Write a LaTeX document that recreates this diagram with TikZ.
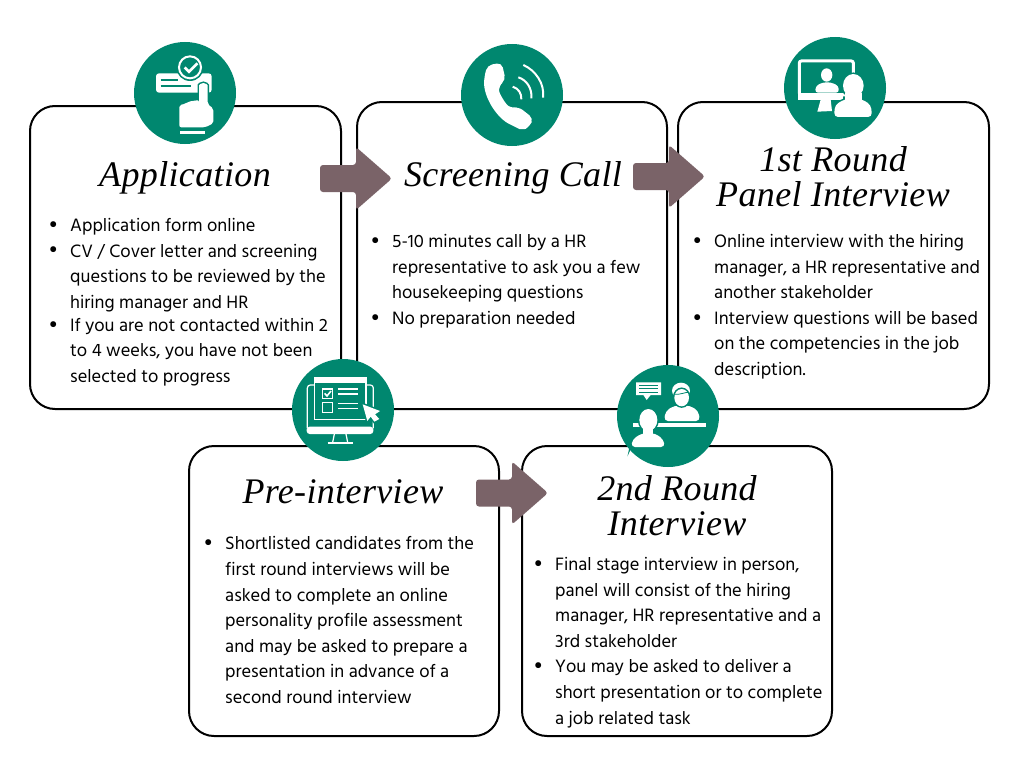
\documentclass[tikz,border=0pt]{standalone}
\usepackage{fontspec}
\setmainfont{Hind Madurai}
\newfontfamily\titlefont[LetterSpace=1]{Liberation Serif Italic}
\definecolor{tealc}{HTML}{00876F}
\definecolor{arrowc}{HTML}{7A6368}
\newcommand{\bul}{\llap{\raisebox{-0.8pt}{\scalebox{1.2}{\textbullet}}\hspace{12pt}}}
\newcommand{\blockarrow}[1]{\fill[arrowc,rounded corners=3pt] ($(#1)+(0,-13.5)$) -- ($(#1)+(36,-13.5)$) -- ($(#1)+(36,-31.5)$) -- ($(#1)+(72,0)$) -- ($(#1)+(36,31.5)$) -- ($(#1)+(36,13.5)$) -- ($(#1)+(0,13.5)$) -- cycle;}
\usetikzlibrary{calc}
\tikzset{
  card/.style={draw=black,line width=2pt,rounded corners=25pt,fill=white},
  badge/.style={circle,fill=tealc,inner sep=0pt,minimum size=102pt},
  heading/.style={font=\titlefont\fontsize{36}{35}\selectfont,align=center,inner sep=0pt,text=black},
  body/.style={font=\fontsize{18.4}{25.6}\selectfont,align=left,anchor=north west,inner sep=0pt,text=black},
  grl/.style={draw=tealc,line width=1.3pt},
  halo/.style={preaction={draw=tealc,line width=3pt},fill=white}
}
\begin{document}
\begin{tikzpicture}[x=1pt,y=-1pt]
\useasboundingbox (0,0) rectangle (1024,768);
\fill[white] (0,0) rectangle (1024,768);
% cards
\draw[card] (30,106) rectangle (341,409);
\draw[card] (357,102) rectangle (667,409);
\draw[card] (678,102) rectangle (989,409);
\draw[card] (189,446) rectangle (499,736);
\draw[card] (522,446) rectangle (832,736);
% arrows
\blockarrow{320,178.5}
\blockarrow{633,176.5}
\blockarrow{476,493}
% badges
\node[badge] (b1) at (185,93) {};
\node[badge] (b2) at (512,95) {};
\node[badge] (b3) at (835,88) {};
\node[badge] (b4) at (343,410) {};
\node[badge] (b5) at (668,416) {};
% icon 1
\begin{scope}[shift={(120,30)},scale=1/3]
\fill[white,rounded corners=3pt] (108,130) rectangle (275,188);
\draw[grl] (122,150) -- (175,150) (122,168) -- (212,168);
\fill[tealc] (210,112) circle (41);
\draw[white,line width=2pt] (210,112) circle (33);
\draw[white,line width=2.6pt] (194,112) -- (207,125) -- (232,100);
\path[halo,rounded corners=2pt] (237,235) -- (237,172) arc (180:360:13) -- (263,222) -- (280,236) -- (280,280) -- (255,292) -- (178,292) -- (178,225) -- (195,222) -- (205,215) -- (237,210) -- cycle;
\fill[white] (180,303) rectangle (255,311);
\end{scope}
% icon 2
\begin{scope}[shift={(450,30)},scale=1/3]
\fill[white,rounded corners=5pt] (112,106) -- (155,98) -- (167,150) -- (146,168) .. controls (148,190) and (165,220) .. (186,236) -- (205,230) -- (250,265) -- (240,288) .. controls (225,298) and (210,298) .. (195,290) .. controls (140,265) and (100,200) .. (103,140) -- cycle;
\draw[white,line width=2pt] (188,170) .. controls (205,175) and (215,190) .. (214,208);
\draw[white,line width=2pt] (205,142) .. controls (230,150) and (247,175) .. (244,205);
\draw[white,line width=2pt] (220,105) .. controls (255,120) and (285,160) .. (279,203);
\end{scope}
% icon 3
\begin{scope}[shift={(770,25)},scale=1/3]
\draw[white,line width=3pt,rounded corners=2pt] (88,108) rectangle (250,210);
\fill[white] (83,205) rectangle (220,224);
\fill[white] (152,224) -- (182,224) -- (186,258) -- (142,260) -- cycle;
\fill[white] (170,150) ellipse (17 and 20);
\fill[white,rounded corners=3pt] (135,203) -- (138,182) -- (160,172) -- (182,172) -- (205,182) -- (207,203) -- cycle;
\path[halo,rounded corners=4pt] (192,276) -- (195,240) -- (225,222) -- (275,222) -- (303,240) -- (306,276) -- cycle;
\path[halo] (250,182) ellipse (31 and 35);
\fill[white] (225,205) rectangle (275,235);
\end{scope}
% icon 4
\begin{scope}[shift={(280,350)},scale=1/3]
\draw[white,line width=1.2pt,rounded corners=3pt] (82,235) -- (82,105) -- (280,105) -- (280,235);
\fill[white,rounded corners=3pt] (80,230) rectangle (280,252);
\draw[white,line width=1.2pt] (163,252) -- (158,277) (198,252) -- (203,277);
\draw[white,line width=1.4pt] (143,279) -- (218,279);
\fill[tealc] (104,83) rectangle (258,208);
\draw[white,line width=1.2pt] (104,83) rectangle (258,208);
\fill[white] (104,83) rectangle (258,100);
\draw[white,line width=1.2pt] (128,117) rectangle (158,145) (128,157) rectangle (158,187);
\draw[white,line width=1.6pt] (134,130) -- (141,138) -- (153,123);
\draw[white,line width=1.2pt] (175,117) -- (235,117) (175,132) -- (235,132) (175,160) -- (235,160) (175,176) -- (235,176);
\path[halo] (248,163) -- (300,183) -- (285,193) -- (298,207) -- (283,215) -- (272,200) -- (262,213) -- cycle;
\end{scope}
% icon 5
\begin{scope}[shift={(605,355)},scale=1/3]
\fill[white] (93,82) -- (168,82) -- (168,120) -- (137,120) -- (125,135) -- (115,120) -- (93,120) -- cycle;
\draw[tealc,line width=.9pt] (103,91) -- (158,91) (103,101) -- (158,101) (103,111) -- (158,111);
\fill[white,rounded corners=4pt] (177,198) -- (182,168) -- (208,152) -- (255,152) -- (280,168) -- (285,198) -- cycle;
\fill[white] (228,107) ellipse (27 and 24);
\path[halo] (230,128) ellipse (22 and 26);
\draw[tealc,line width=.8pt] (207,118) .. controls (225,120) and (245,110) .. (252,112);
\fill[white] (85,203) rectangle (303,216);
\path[halo] (130,195) ellipse (27 and 33);
\path[halo,rounded corners=4pt] (78,276) -- (83,253) -- (110,235) -- (150,235) -- (175,253) -- (180,276) -- cycle;
\fill[white] (115,220) rectangle (145,240);
\end{scope}
% headings
\node[heading] (h1) at (185,178) {Application};
\node[heading] (h2) at (513,178) {Screening Call};
\node[heading] (h3) at (833,176.5) {1st Round\\Panel Interview};
\node[heading] (h4) at (343,492) {Pre-interview};
\node[heading] (h5) at (677,505.5) {2nd Round\\Interview};
% bodies
\node[body] (t1) at (70,218) {\bul Application form online\\\bul CV / Cover letter and screening\\questions to be reviewed by the\\hiring manager and HR\\[-2.5pt]\bul If you are not contacted within 2\\to 4 weeks, you have not been\\selected to progress};
\node[body] (t2) at (392,234) {\bul 5-10 minutes call by a HR\\representative to ask you a few\\housekeeping questions\\\bul No preparation needed};
\node[body] (t3) at (714,234) {\bul Online interview with the hiring\\manager, a HR representative and\\another stakeholder\\\bul Interview questions will be based\\on the competencies in the job\\description.};
\node[body] (t4) at (225,536.5) {\bul Shortlisted candidates from the\\first round interviews will be\\asked to complete an online\\personality profile assessment\\and may be asked to prepare a\\presentation in advance of a\\second round interview};
\node[body] (t5) at (555,557) {\bul Final stage interview in person,\\panel will consist of the hiring\\manager, HR representative and a\\3rd stakeholder\\\bul You may be asked to deliver a\\short presentation or to complete\\a job related task};
\end{tikzpicture}
\end{document}
